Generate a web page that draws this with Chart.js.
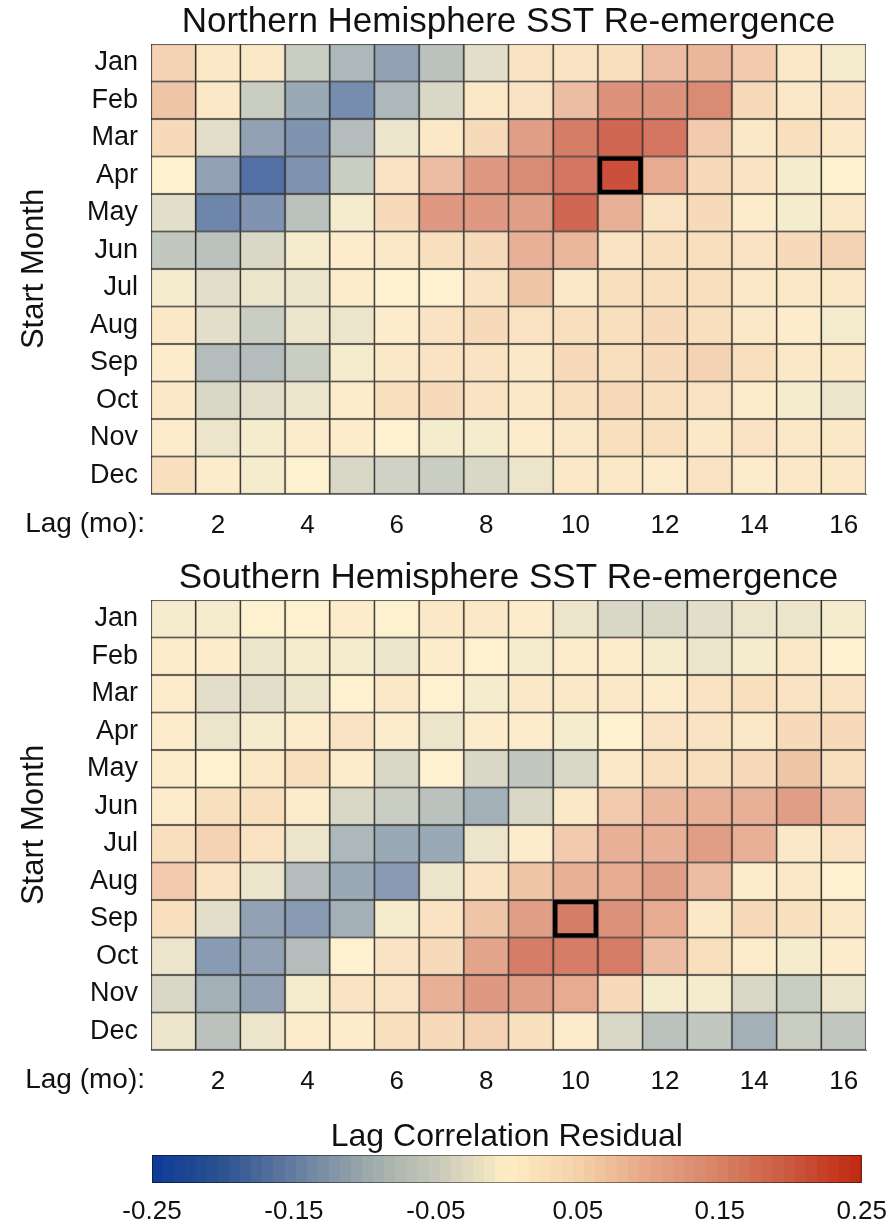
<!DOCTYPE html>
<html>
<head>
<meta charset="utf-8">
<script src="https://cdn.jsdelivr.net/npm/chart.js@4.4.0/dist/chart.umd.min.js"></script>
<style>
  body { margin: 0; background: #fff; width: 892px; height: 1225px; position: relative; overflow: hidden; }
  canvas { position: absolute; left: 0; }
</style>
</head>
<body>
<canvas id="nhChart" width="892" height="550" style="top:0"></canvas>
<canvas id="shChart" width="892" height="550" style="top:556px"></canvas>
<canvas id="barChart" width="892" height="125" style="top:1100px"></canvas>
<script>
const months = ['Jan', 'Feb', 'Mar', 'Apr', 'May', 'Jun', 'Jul', 'Aug', 'Sep', 'Oct', 'Nov', 'Dec'];
const lags = [1, 2, 3, 4, 5, 6, 7, 8, 9, 10, 11, 12, 13, 14, 15, 16];
const lagTicks = [2, 4, 6, 8, 10, 12, 14, 16];
const colorTicks = [-0.25, -0.15, -0.05, 0.05, 0.15, 0.25];

// rows = start month, columns = lag 1..16
const nhResidual = [
  [0.06, 0.02, 0.02, -0.06, -0.10, -0.13, -0.08, -0.03, 0.03, 0.03, 0.04, 0.09, 0.10, 0.07, 0.02, -0.01],
  [0.08, 0.02, -0.06, -0.12, -0.16, -0.10, -0.04, 0.02, 0.03, 0.09, 0.16, 0.16, 0.17, 0.05, 0.02, 0.03],
  [0.05, -0.03, -0.13, -0.15, -0.09, -0.02, 0.02, 0.05, 0.14, 0.19, 0.22, 0.20, 0.07, 0.02, 0.04, 0.02],
  [0.00, -0.13, -0.20, -0.15, -0.06, 0.03, 0.09, 0.15, 0.17, 0.20, 0.25, 0.12, 0.05, 0.03, -0.01, 0.00],
  [-0.03, -0.17, -0.15, -0.08, -0.01, 0.05, 0.15, 0.15, 0.14, 0.22, 0.11, 0.03, 0.05, 0.01, -0.01, 0.02],
  [-0.07, -0.08, -0.04, -0.01, 0.01, 0.02, 0.04, 0.05, 0.11, 0.10, 0.03, 0.04, 0.04, 0.03, 0.05, 0.06],
  [-0.01, -0.03, -0.02, -0.02, 0.01, 0.00, 0.00, 0.03, 0.08, 0.02, 0.04, 0.04, 0.04, 0.02, 0.02, 0.02],
  [0.02, -0.03, -0.06, -0.02, -0.02, 0.01, 0.03, 0.05, 0.03, 0.04, 0.04, 0.05, 0.04, 0.02, 0.01, -0.01],
  [0.01, -0.09, -0.09, -0.06, -0.01, 0.02, 0.03, 0.03, 0.02, 0.05, 0.04, 0.05, 0.06, 0.04, 0.02, 0.02],
  [0.02, -0.04, -0.03, -0.02, 0.01, 0.04, 0.05, 0.03, 0.02, 0.04, 0.05, 0.04, 0.03, 0.01, -0.01, -0.02],
  [0.01, -0.02, -0.01, 0.01, 0.01, 0.00, -0.01, -0.01, 0.01, 0.02, 0.04, 0.04, 0.02, 0.03, 0.02, 0.02],
  [0.04, 0.01, -0.01, 0.00, -0.04, -0.05, -0.06, -0.04, -0.02, 0.02, 0.02, 0.01, 0.03, 0.01, 0.02, 0.02]
];

const shResidual = [
  [-0.01, -0.01, 0.00, 0.00, 0.01, 0.00, 0.02, 0.02, 0.01, -0.02, -0.04, -0.04, -0.03, -0.02, -0.02, -0.01],
  [0.01, 0.01, -0.02, -0.01, -0.01, -0.02, 0.01, 0.00, -0.01, 0.01, 0.01, -0.01, -0.02, -0.01, 0.02, 0.00],
  [0.01, -0.03, -0.03, -0.02, 0.00, 0.02, 0.00, -0.01, 0.02, 0.02, 0.02, 0.01, 0.03, 0.04, 0.03, 0.03],
  [0.01, -0.02, -0.01, 0.01, 0.03, 0.01, -0.02, 0.01, 0.01, -0.01, 0.00, 0.03, 0.03, 0.02, 0.05, 0.05],
  [0.01, 0.00, 0.02, 0.04, 0.01, -0.04, 0.00, -0.04, -0.07, -0.04, 0.02, 0.04, 0.04, 0.05, 0.08, 0.04],
  [0.01, 0.04, 0.04, 0.01, -0.04, -0.06, -0.08, -0.11, -0.04, 0.02, 0.07, 0.10, 0.11, 0.11, 0.14, 0.09],
  [0.04, 0.06, 0.03, -0.02, -0.10, -0.12, -0.12, -0.02, 0.01, 0.07, 0.11, 0.11, 0.14, 0.11, 0.02, 0.03],
  [0.07, 0.03, -0.02, -0.09, -0.12, -0.14, -0.02, 0.03, 0.08, 0.11, 0.12, 0.14, 0.09, 0.01, 0.02, 0.00],
  [0.04, -0.03, -0.13, -0.14, -0.11, -0.01, 0.03, 0.08, 0.14, 0.19, 0.16, 0.12, 0.02, 0.05, 0.04, 0.02],
  [-0.02, -0.14, -0.13, -0.09, 0.00, 0.03, 0.05, 0.13, 0.19, 0.19, 0.19, 0.09, 0.04, 0.01, -0.01, 0.01],
  [-0.04, -0.11, -0.13, -0.01, 0.03, 0.03, 0.11, 0.15, 0.14, 0.12, 0.05, -0.01, -0.01, -0.04, -0.06, -0.02],
  [-0.02, -0.08, -0.02, 0.01, 0.01, 0.04, 0.05, 0.06, 0.04, 0.01, -0.04, -0.08, -0.07, -0.11, -0.06, -0.07]
];

// boxed cells
const nhPeak = { month: 'Apr', lag: 11 };
const shPeak = { month: 'Sep', lag: 10 };

// diverging colormap, blue - cream - red
const cmapStops = [
  [-0.25, [12, 58, 150]],
  [-0.20, [45, 82, 145]],
  [-0.15, [100, 124, 160]],
  [-0.10, [154, 168, 170]],
  [-0.05, [198, 200, 184]],
  [0.00, [254, 238, 196]],
  [0.05, [245, 210, 170]],
  [0.10, [229, 166, 134]],
  [0.15, [216, 130, 102]],
  [0.20, [202, 88, 62]],
  [0.25, [192, 40, 16]]
];

function cmap(v) {
  v = Math.max(-0.25, Math.min(0.25, v));
  for (let i = 1; i < cmapStops.length; i++) {
    const [v1, c1] = cmapStops[i];
    const [v0, c0] = cmapStops[i - 1];
    if (v <= v1) {
      const t = (v - v0) / (v1 - v0);
      return c0.map((c, k) => Math.round(c + (c1[k] - c) * t));
    }
  }
  return cmapStops[cmapStops.length - 1][1];
}

function cellColor(v) {
  const c = cmap(v);
  return `rgba(${c[0]}, ${c[1]}, ${c[2]}, 0.82)`;
}

const FONT = "'Liberation Sans', Arial, sans-serif";

// title above the grid and the "Lag (mo):" prefix in front of the lag ticks
const headerPlugin = {
  id: 'header',
  afterDraw(chart, args, opts) {
    const { ctx, chartArea } = chart;
    ctx.save();
    ctx.fillStyle = '#111';
    ctx.font = `35px ${FONT}`;
    ctx.textAlign = 'center';
    ctx.textBaseline = 'middle';
    ctx.fillText(opts.title, (chartArea.left + chartArea.right) / 2, chartArea.top - 22);
    ctx.font = `28px ${FONT}`;
    ctx.textAlign = 'right';
    ctx.fillText('Lag (mo):', chartArea.left - 6, chartArea.bottom + 30);
    ctx.restore();
  }
};

function makeHeatmap(canvasId, title, values, peak) {
  const datasets = lags.map((lag, j) => ({
    data: months.map(() => [lag - 0.5, lag + 0.5]),
    backgroundColor: months.map((m, i) => cellColor(values[i][j])),
    borderColor: 'rgba(20, 20, 20, 0.8)',
    borderWidth: 1,
    borderSkipped: false,
    grouped: false,
    barPercentage: 1,
    categoryPercentage: 1
  }));

  datasets.push({
    data: months.map(m => m === peak.month ? [peak.lag - 0.5, peak.lag + 0.5] : null),
    backgroundColor: 'rgba(0, 0, 0, 0)',
    borderColor: '#000',
    borderWidth: 4,
    borderSkipped: false,
    grouped: false,
    barPercentage: 1,
    categoryPercentage: 1,
    order: -1
  });

  return new Chart(document.getElementById(canvasId), {
    type: 'bar',
    data: { labels: months, datasets: datasets },
    options: {
      indexAxis: 'y',
      responsive: false,
      animation: false,
      layout: { padding: { top: 44, left: 0, right: 26, bottom: 0 } },
      scales: {
        x: {
          type: 'linear',
          min: 0.5,
          max: 16.5,
          grid: { display: false },
          border: { display: true, color: '#777', width: 1 },
          afterBuildTicks: scale => { scale.ticks = lagTicks.map(v => ({ value: v })); },
          afterFit: scale => { scale.height = 56; },
          ticks: {
            autoSkip: false,
            maxRotation: 0,
            padding: 8,
            color: '#111',
            font: { family: FONT, size: 26 }
          }
        },
        y: {
          type: 'category',
          grid: { display: false },
          border: { display: true, color: '#777', width: 1 },
          afterFit: scale => { scale.width = 151; },
          ticks: {
            padding: 5,
            color: '#111',
            font: { family: FONT, size: 27 }
          },
          title: {
            display: true,
            text: 'Start Month',
            color: '#111',
            padding: { top: 16, bottom: 0 },
            font: { family: FONT, size: 31 }
          }
        }
      },
      plugins: {
        legend: { display: false },
        tooltip: { enabled: false },
        header: { title: title }
      }
    },
    plugins: [headerPlugin]
  });
}

makeHeatmap('nhChart', 'Northern Hemisphere SST Re-emergence', nhResidual, nhPeak);
makeHeatmap('shChart', 'Southern Hemisphere SST Re-emergence', shResidual, shPeak);

// colour bar: 64 bands drawn along the x scale
const colorbarPlugin = {
  id: 'colorbar',
  beforeDatasetsDraw(chart) {
    const { ctx, chartArea, scales } = chart;
    const n = 64;
    const step = 0.5 / n;
    ctx.save();
    for (let i = 0; i < n; i++) {
      const v0 = -0.25 + i * step;
      const x0 = scales.x.getPixelForValue(v0);
      const x1 = scales.x.getPixelForValue(v0 + step);
      const c = cmap(v0 + step / 2);
      ctx.fillStyle = `rgb(${c[0]}, ${c[1]}, ${c[2]})`;
      ctx.fillRect(Math.floor(x0), chartArea.top, Math.ceil(x1) - Math.floor(x0), chartArea.bottom - chartArea.top);
    }
    ctx.strokeStyle = 'rgba(0, 0, 0, 0.45)';
    ctx.lineWidth = 1;
    ctx.strokeRect(chartArea.left + 0.5, chartArea.top + 0.5, chartArea.right - chartArea.left - 1, chartArea.bottom - chartArea.top - 1);
    ctx.fillStyle = '#111';
    ctx.font = `32px ${FONT}`;
    ctx.textAlign = 'center';
    ctx.textBaseline = 'middle';
    ctx.fillText('Lag Correlation Residual', (chartArea.left + chartArea.right) / 2, chartArea.top - 18);
    ctx.restore();
  }
};

new Chart(document.getElementById('barChart'), {
  type: 'scatter',
  data: { datasets: [{ data: [] }] },
  options: {
    responsive: false,
    animation: false,
    layout: { padding: { top: 55, left: 152, right: 29, bottom: 0 } },
    scales: {
      x: {
        type: 'linear',
        min: -0.25,
        max: 0.25,
        grid: { display: false },
        border: { display: false },
        afterBuildTicks: scale => { scale.ticks = colorTicks.map(v => ({ value: v })); },
        afterFit: scale => { scale.height = 42; },
        ticks: {
          autoSkip: false,
          maxRotation: 0,
          padding: 5,
          color: '#111',
          font: { family: FONT, size: 26 },
          callback: v => v.toFixed(2)
        }
      },
      y: { display: false, min: 0, max: 1 }
    },
    plugins: {
      legend: { display: false },
      tooltip: { enabled: false }
    }
  },
  plugins: [colorbarPlugin]
});
</script>
</body>
</html>
